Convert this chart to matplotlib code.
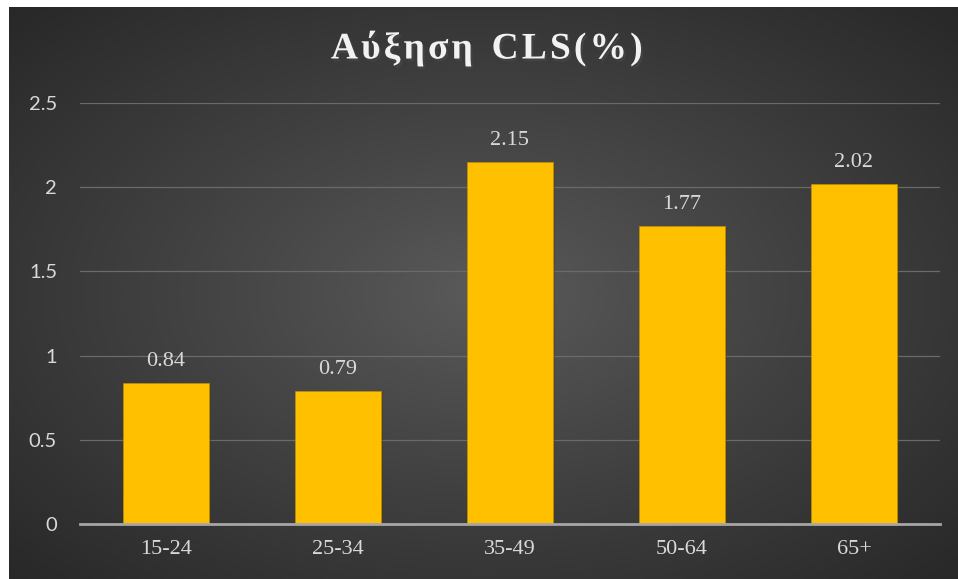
"""
Bar chart: Αύξηση CLS(%) by age group, dark Excel-style background.
"""

import numpy as np
import matplotlib.pyplot as plt
import matplotlib.patheffects as pe

# Data
title_text = "Αύξηση CLS(%)"
age_groups = ["15-24", "25-34", "35-49", "50-64", "65+"]
cls_increase = [0.84, 0.79, 2.15, 1.77, 2.02]
y_ticks = [0, 0.5, 1, 1.5, 2, 2.5]
y_tick_labels = ["0", "0.5", "1", "1.5", "2", "2.5"]

TEXT = "#d9d9d9"
BAR = "#ffc000"

fig = plt.figure(figsize=(9.58, 5.79), dpi=100)
fig.patch.set_facecolor("white")

# Radial gradient backdrop
bg = fig.add_axes([0.0094, 0.0, 0.9896, 0.9879])
bg.set_axis_off()
h, w = 300, 500
yy, xx = np.mgrid[0:h, 0:w]
r = np.hypot((xx - w * 0.5) / (w * 0.5), (yy - h * 0.5) / (h * 0.5)) / np.sqrt(2)
shade = 0x5b / 255 - (0x5b - 0x28) / 255 * np.clip(r, 0, 1) ** 0.9
bg.imshow(np.dstack([shade] * 3), aspect="auto", extent=(0, 1, 0, 1))

ax = fig.add_axes([0.0835, 0.0950, 0.8977, 0.7271])
ax.patch.set_alpha(0)

x = np.arange(len(age_groups))
bars = ax.bar(x, cls_increase, width=0.5, color=BAR, zorder=3,
              edgecolor="#c49400", linewidth=0.4)
for b in bars:
    b.set_path_effects([pe.SimplePatchShadow(offset=(1.5, -1.5), alpha=0.35), pe.Normal()])

for xi, v in zip(x, cls_increase):
    ax.annotate(f"{v:g}", (xi, v), xytext=(0, 12.2), textcoords="offset points",
                ha="center", va="baseline", color=TEXT,
                fontsize=16, family="Liberation Serif")

ax.set_xlim(-0.5, len(age_groups) - 0.5)
ax.set_ylim(0, 2.5)
ax.set_yticks(y_ticks)
ax.set_yticklabels(y_tick_labels, family="Lato", fontsize=14.5, color=TEXT)
ax.set_xticks(x)
ax.set_xticklabels(age_groups, family="Liberation Serif", fontsize=16, color=TEXT)
ax.tick_params(axis="y", length=0, pad=16.5)
ax.tick_params(axis="x", length=0, pad=11.5)

ax.grid(axis="y", color="#6a6a6a", linewidth=0.9, zorder=0)
ax.set_axisbelow(True)
for s in ["top", "right", "left"]:
    ax.spines[s].set_visible(False)
ax.spines["bottom"].set_color("#a6a6a6")
ax.spines["bottom"].set_linewidth(2)
ax.spines["bottom"].set_zorder(4)

# Letter-spaced title (hair spaces between letters, wider gap between words)
spaced = "  ".join("\u200a".join(word) for word in title_text.split(" "))
title = fig.text(0.508, 0.917, spaced, ha="center", va="center", color="#f2f2f2",
                 fontsize=27, fontweight="bold", family="Liberation Serif")
title.set_path_effects([pe.SimplePatchShadow(offset=(1.5, -2), alpha=0.6), pe.Normal()])

fig.savefig("out.png", dpi=100, facecolor=fig.get_facecolor())
